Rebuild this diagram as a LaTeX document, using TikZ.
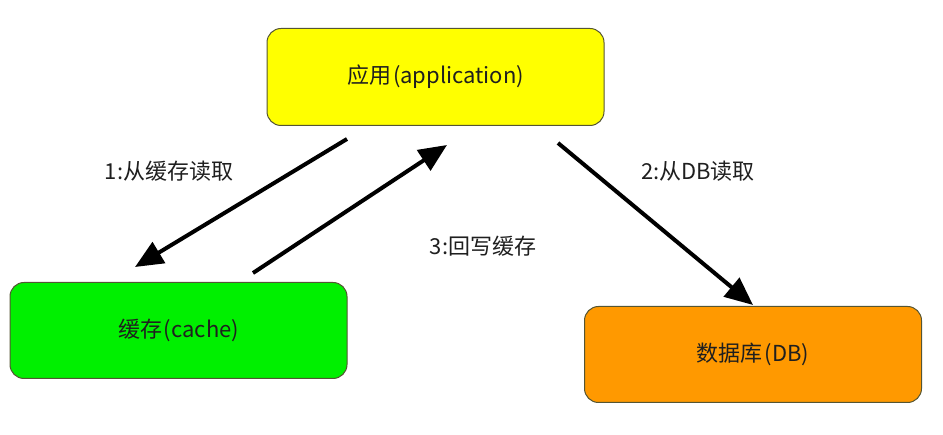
\documentclass[tikz,border=0pt]{standalone}
\usepackage{fontspec}
\setmainfont{Noto Sans CJK SC}
\usetikzlibrary{arrows.meta}
\definecolor{appfill}{HTML}{FFFF00}
\definecolor{cachefill}{HTML}{00F000}
\definecolor{dbfill}{HTML}{FF9900}
\definecolor{boxedge}{HTML}{555533}
\tikzset{
  box/.style={draw=boxedge, line width=1pt, rounded corners=14pt, inner sep=0pt},
  flow/.style={line width=4pt, -{Triangle[length=28pt,width=24pt]}, shorten >=0pt},
  lbl/.style={font=\fontsize{22}{26}\selectfont, text=black!88}
}
\begin{document}
\begin{tikzpicture}[x=1pt,y=-1pt]
\useasboundingbox (0,0) rectangle (943,435);
\node[box, fill=appfill, minimum width=337pt, minimum height=97pt] (app) at (435.5,77) {};
\node[lbl] at (app.center) {应用\hspace{2pt}(application)};
\node[box, fill=cachefill, minimum width=337pt, minimum height=96pt] (cache) at (178.5,330.5) {};
\node[lbl] at (cache.center) {缓存\hspace{2pt}(cache)};
\node[box, fill=dbfill, minimum width=337pt, minimum height=96pt] (db) at (753,354.5) {};
\node[lbl] at (db.center) {数据库\hspace{2pt}(DB)};
\coordinate (a1s) at (347,139);
\coordinate (a1e) at (135,267);
\coordinate (a3s) at (253,273);
\coordinate (a3e) at (447,145);
\coordinate (a2s) at (558,143);
\coordinate (a2e) at (753,305);
\draw[flow] (a1s) -- (a1e);
\draw[flow] (a3s) -- (a3e);
\draw[flow] (a2s) -- (a2e);
\node[lbl] (l1) at (169,171) {1:从缓存读取};
\node[lbl] (l3) at (483,246) {3:回写缓存};
\node[lbl] (l2) at (698,171) {2:从DB读取};
\end{tikzpicture}
\end{document}
